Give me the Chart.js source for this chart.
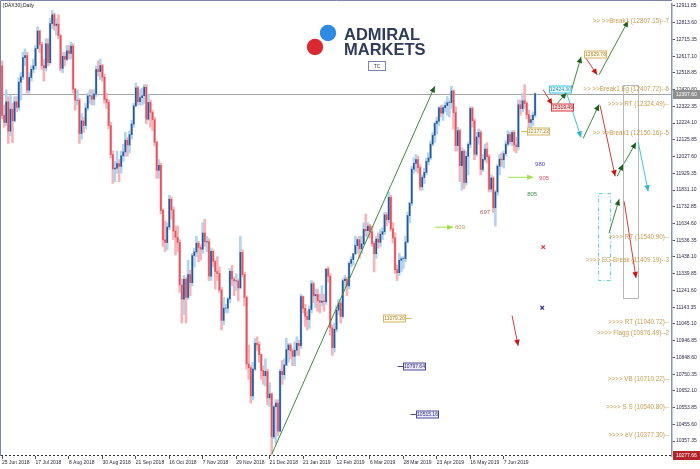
<!DOCTYPE html>
<html>
<head>
<meta charset="utf-8">
<script src="https://cdn.jsdelivr.net/npm/chart.js@4.4.0/dist/chart.umd.min.js"></script>
<style>
  html, body { margin: 0; padding: 0; background: #fff; }
  #wrap { width: 700px; height: 469px; }
</style>
</head>
<body>
<div id="wrap"><canvas id="dax" width="700" height="469"></canvas></div>
<script>
// trading days: weekends and these exchange holidays are skipped
const startDay = '2018-06-25';
const holidays = ['2018-10-03', '2018-12-24', '2018-12-25', '2018-12-26', '2018-12-31',
                  '2019-01-01', '2019-04-19', '2019-04-22', '2019-05-01'];
const slotCount = 321; // candles plus empty room on the right

const dateTicks = ['25 Jun 2018', '17 Jul 2018', '8 Aug 2018', '30 Aug 2018', '21 Sep 2018',
                   '16 Oct 2018', '7 Nov 2018', '29 Nov 2018', '21 Dec 2018', '21 Jan 2019',
                   '12 Feb 2019', '6 Mar 2019', '28 Mar 2019', '23 Apr 2019', '16 May 2019', '7 Jun 2019'];

const priceTicks = [12911.85, 12813.60, 12715.35, 12617.10, 12518.85, 12420.60, 12322.35, 12224.10,
                    12125.85, 12027.60, 11929.35, 11831.10, 11732.85, 11634.60, 11536.35, 11438.10,
                    11339.85, 11241.60, 11143.35, 11045.10, 10946.85, 10848.60, 10750.35, 10652.10,
                    10553.85, 10455.60, 10357.35];
const yMin = 10269.7;
const yMax = 12923.5;

// daily candles, open = previous close
const firstOpen = 12560;
const closes = [
  12270,12228,12349,12177,12306, 12238,12349,12317,12465,12496,
  12609,12620,12417,12492,12540, 12561,12662,12765,12686,12562,
  12548,12690,12579,12809,12860, 12798,12805,12737,12546,12616,
  12598,12648,12633,12676,12424, 12358,12358,12163,12237,12210,
  12313,12384,12385,12365,12394, 12538,12527,12562,12494,12364,
  12346,12210,12040,11955,11960, 11987,11970,12032,12055,12124,
  12096,12157,12219,12326,12431, 12350,12374,12385,12435,12247,
  12346,12287,12244,12111, 11947,11977,11712,11539,11523,
  11614,11777,11715,11590,11554, 11524,11274,11191,11307,11201,
  11335,11287,11447,11468,11519, 11494,11484,11579,11527,11529,
  11325,11472,11412,11353,11341, 11244,11066,11138,11138,11192,
  11354,11309,11298,11298,11257, 11465,11335,11200,10810,10788,
  10622,10780,10931,10924,10865, 10772,10741,10766,10611,10634,
  10382,10559, 10580,10416,10767,
  10747,10804,10893,10921,10887, 10855,10891,10931,10918,11205,
  11136,11090,11071,11130,11281, 11210,11218,11181,11173,11180,
  11176,11367,11325,11022,10906, 11014,11126,11167,11089,11299,
  11309,11269,11401,11423,11457, 11505,11540,11487,11515,11601,
  11593,11620,11587,11518,11457, 11543,11524,11572,11587,11685,
  11657,11788,11603,11550,11364, 11346,11419,11428,11429,11526,
  11681,11754,11954,11988,12010, 11963,11850,11905,11935,11999,
  12020,12101,12153,12222, 12236,12314,12283,12315, 12328,12344,12345,12412,
  12286,12092,12180,11974,12059, 11876,12029,12099,12310,12238,
  12041,12143,12169,11952,12011, 12071,12027,11837,11902,11727,
  11820,11971,12013,12009,12045, 12101,12157,12115,12169,12096,
  12086,12332,12309,12355,12340, 12274,12228,12245,12271,12398
];
const highs = [
  12590,12330,12420,12380,12390, 12340,12380,12380,12490,12520,
  12640,12660,12640,12520,12560, 12600,12680,12790,12770,12700,
  12600,12720,12720,12840,12886, 12870,12840,12860,12745,12640,
  12640,12680,12680,12700,12690, 12430,12420,12370,12280,12260,
  12340,12400,12420,12420,12420, 12560,12590,12600,12570,12510,
  12400,12360,12230,12060,12000, 12060,12010,12060,12100,12170,
  12140,12180,12240,12340,12460, 12440,12420,12430,12450,12450,
  12390,12360,12300,12260, 12120,12010,11990,11720,11650,
  11640,11800,11790,11730,11620, 11620,11540,11310,11330,11320,
  11420,11360,11460,11490,11560, 11530,11510,11640,11660,11560,
  11545,11490,11480,11420,11440, 11380,11260,11200,11160,11200,
  11370,11390,11320,11340,11310, 11560,11480,11350,11210,10920,
  10800,10820,10960,10970,10940, 10870,10800,10840,10780,10700,
  10640,10570, 10600,10600,10780,
  10830,10840,10960,10930,10930, 10900,10940,10970,10950,11220,
  11210,11160,11120,11150,11300, 11290,11250,11250,11220,11270,
  11220,11370,11380,11340,11040, 11050,11150,11190,11180,11310,
  11330,11320,11410,11440,11460, 11560,11550,11560,11560,11640,
  11690,11640,11630,11620,11530, 11560,11580,11600,11610,11700,
  11700,11820,11800,11640,11580, 11390,11460,11440,11440,11560,
  11700,11760,11970,12020,12040, 12030,11980,11920,11960,12020,
  12050,12120,12170,12230, 12260,12320,12330,12330, 12350,12380,12360,12440,
  12420,12320,12200,12190,12080, 12070,12060,12110,12320,12320,
  12250,12170,12190,12180,12040, 12100,12110,12040,11920,11910,
  11830,11980,12040,12050,12060, 12120,12180,12170,12180,12180,
  12140,12360,12360,12400,12450, 12350,12300,12270,12290,12400
];
const lows = [
  12250,12200,12210,12105,12150, 12110,12230,12290,12300,12360,
  12480,12560,12400,12400,12470, 12520,12540,12660,12640,12540,
  12470,12530,12560,12570,12780, 12770,12740,12720,12530,12520,
  12560,12590,12600,12600,12400, 12300,12330,12105,12130,12170,
  12190,12300,12340,12330,12330, 12380,12500,12480,12470,12340,
  12310,12190,12020,11870,11880, 11930,11880,11930,12000,12030,
  12030,12050,12130,12200,12320, 12330,12330,12330,12340,12220,
  12240,12200,12180,12090, 11900,11900,11690,11500,11470,
  11480,11600,11660,11540,11450, 11470,11230,11050,11100,11050,
  11190,11210,11270,11380,11440, 11410,11420,11460,11500,11470,
  11300,11300,11380,11250,11300, 11230,11010,11040,11110,11110,
  11170,11270,11210,11240,11180, 11250,11320,11150,10780,10720,
  10580,10600,10770,10890,10820, 10720,10690,10680,10570,10560,
  10279,10370, 10340,10390,10410,
  10690,10720,10800,10820,10840, 10800,10800,10860,10860,10900,
  11110,11030,11010,11020,11110, 11170,11140,11120,11110,11150,
  11120,11160,11290,10980,10860, 10880,11000,11100,11050,11080,
  11260,11210,11250,11380,11390, 11450,11460,11430,11460,11510,
  11560,11550,11550,11500,11350, 11430,11490,11500,11540,11570,
  11620,11640,11590,11520,11340, 11300,11330,11350,11370,11410,
  11520,11640,11740,11930,11940, 11930,11830,11830,11870,11920,
  11980,12010,12090,12110, 12160,12210,12260,12240, 12290,12270,12260,12310,
  12190,12060,12060,11880,11830, 11840,11860,11920,12080,12200,
  12010,12030,12100,11920,11940, 12000,11990,11820,11820,11700,
  11620,11800,11920,11970,11960, 12030,12090,12100,12090,12060,
  12050,12070,12270,12290,12310, 12250,12160,12180,12210,12260
];

const lastPrice = 12397.60;
const lowLine = 10277.66;

// analysis levels printed on the right
const levelNames = ['>> >>Break1', '>> >>Break1 Eg', '>>>> RT', '>> >>Break1', '>>>> RT', '>>>> EG-Break',
                    '>>>> RT', '>>>> Flagg', '>>>> VB', '>>>> S S', '>>>> eV'];
const levelPrices = [12807.15, 12407.72, 12324.49, 12150.16, 11540.90, 11409.19,
                     11040.72, 10976.49, 10710.22, 10540.80, 10377.30];
const levelTags = ['7', '6', '', '5', '', '3', '', '2', '', '', ''];

// price boxes: [price, bar index, kind, leader side]
const priceBoxes = [
  [12629.78, 283.7, 'tan', ''], [12424.30, 267, 'cyan', ''], [12319.49, 268, 'red', ''],
  [12177.22, 256.5, 'tan', 'l'], [11079.20, 187.6, 'tan', 'r'],
  [10797.64, 197, 'blue', 'l'], [10515.16, 203.3, 'blue', 'l']
];

// scenario arrows: [from index, from price, to index, to price, colour]
const arrows = [
  [129, 10279, 207, 12440, 'green'],
  [258.9, 12420, 263.2, 12333, 'red'],
  [265.6, 12339, 270, 12403, 'green'],
  [270, 12403, 277, 12140, 'cyan'],
  [278, 12134, 285.6, 12333, 'green'],
  [286.1, 12327, 293.3, 11912, 'red'],
  [272.2, 12409, 277, 12613, 'green'],
  [278.9, 12613, 284.7, 12508, 'red'],
  [285.6, 12508, 299.5, 12824, 'green'],
  [294.3, 11912, 297.1, 11982, 'green'],
  [297.6, 11988, 303.3, 12110, 'green'],
  [304.3, 12116, 309.1, 11824, 'cyan'],
  [290.4, 11578, 295.2, 11777, 'green'],
  [297.6, 11765, 303.3, 11315, 'red'],
  [244, 11093, 246.9, 10917, 'red'],
  [207.2, 11613, 215.8, 11613, 'lime'],
  [242.1, 11906, 254.1, 11906, 'lime']
];

const waveCounts = [['980', 257.4, 11982, '#4b4bd2'], ['905', 259.3, 11900, '#e2506a'],
                    ['805', 253.6, 11806, '#3d8a3d'], ['697', 231.1, 11701, '#b35b5b'],
                    ['609', 219.1, 11613, '#bfa05a']];
const crossMarks = [[258.9, 11496, '#e03040'], [258.4, 11140, '#2a2a90']];
// [index from, price top, index to, price bottom, style]
const zones = [[285.2, 11812, 291, 11304, 'cyan'], [297.1, 12450, 304.3, 11198, 'gray']];

function tradingDays(start, n) {
  const months = ['Jan','Feb','Mar','Apr','May','Jun','Jul','Aug','Sep','Oct','Nov','Dec'];
  const out = [];
  const d = new Date(start + 'T00:00:00Z');
  while (out.length < n) {
    const iso = d.toISOString().slice(0, 10);
    const wd = d.getUTCDay();
    if (wd !== 0 && wd !== 6 && !holidays.includes(iso)) {
      out.push(d.getUTCDate() + ' ' + months[d.getUTCMonth()] + ' ' + d.getUTCFullYear());
    }
    d.setUTCDate(d.getUTCDate() + 1);
  }
  return out;
}

const days = tradingDays(startDay, slotCount);
const opens = closes.map((c, i) => i === 0 ? firstOpen : closes[i - 1]);
const bodies = closes.map((c, i) => [opens[i], c]);
const ranges = closes.map((c, i) => [lows[i], highs[i]]);
const up = closes.map((c, i) => c >= opens[i]);

const LINE = { green: '#3f8a3f', red: '#d83b3b', cyan: '#3ec3dc', lime: '#9fe04c' };
const HEAD = { green: '#1d5e1d', red: '#c81414', cyan: '#2bb8d4', lime: '#9fe04c' };
const BOX = {
  tan: ['#fffbe6', '#d6b46a', '#a98440'],
  cyan: ['#e6fbff', '#3ec3dc', '#2a8ea8'],
  red: ['#fbd9dc', '#d83b3b', '#9a1d24'],
  blue: ['#ecebfa', '#4a4a9a', '#2a2a7a']
};

function arrowTo(ctx, x1, y1, x2, y2, kind) {
  ctx.strokeStyle = LINE[kind];
  ctx.lineWidth = 1;
  ctx.beginPath(); ctx.moveTo(x1, y1); ctx.lineTo(x2, y2); ctx.stroke();
  const a = Math.atan2(y2 - y1, x2 - x1);
  const L = 6, W = 2.8;
  ctx.fillStyle = HEAD[kind];
  ctx.beginPath();
  ctx.moveTo(x2, y2);
  ctx.lineTo(x2 - L * Math.cos(a) + W * Math.sin(a), y2 - L * Math.sin(a) - W * Math.cos(a));
  ctx.lineTo(x2 - L * Math.cos(a) - W * Math.sin(a), y2 - L * Math.sin(a) + W * Math.cos(a));
  ctx.closePath(); ctx.fill();
}

const overlay = {
  id: 'overlay',
  beforeDraw(chart) {
    const ctx = chart.ctx;
    ctx.save();
    ctx.fillStyle = '#fff';
    ctx.fillRect(0, 0, chart.width, chart.height);
    ctx.restore();
  },
  beforeDatasetsDraw(chart) {
    const { ctx, chartArea: a, scales: { y } } = chart;
    ctx.save();
    // last price line
    const yp = Math.round(y.getPixelForValue(lastPrice)) + 0.5;
    ctx.strokeStyle = '#a4a4a4'; ctx.lineWidth = 1;
    ctx.beginPath(); ctx.moveTo(a.left, yp); ctx.lineTo(a.right, yp); ctx.stroke();
    ctx.restore();
  },
  afterDatasetsDraw(chart) {
    const { ctx, chartArea: a, scales: { x, y } } = chart;
    const px = i => x.getPixelForValue(i);
    const py = p => y.getPixelForValue(p);
    ctx.save();

    // frame
    ctx.strokeStyle = '#7c84a4'; ctx.lineWidth = 1;
    ctx.beginPath(); ctx.moveTo(0.5, a.bottom); ctx.lineTo(0.5, 0.5); ctx.lineTo(a.right, 0.5); ctx.stroke();
    // low dashed line
    const yl = Math.round(py(lowLine)) + 0.5;
    ctx.setLineDash([2, 2]); ctx.strokeStyle = '#333';
    ctx.beginPath(); ctx.moveTo(a.left, yl); ctx.lineTo(a.right, yl); ctx.stroke();
    ctx.setLineDash([]);

    // title
    ctx.fillStyle = '#222'; ctx.font = '5px "Liberation Sans"';
    ctx.textAlign = 'left'; ctx.textBaseline = 'top';
    ctx.fillText('[DAX30],Daily', 3, 3);

    // logo
    ctx.fillStyle = '#2f8be2';
    ctx.beginPath(); ctx.arc(328, 33, 8.2, 0, Math.PI * 2); ctx.fill();
    ctx.fillStyle = '#d9282f';
    ctx.beginPath(); ctx.arc(315, 47, 8.2, 0, Math.PI * 2); ctx.fill();
    ctx.fillStyle = '#2f3b5a'; ctx.font = 'bold 16.5px "Liberation Sans"';
    ctx.textBaseline = 'alphabetic';
    ctx.fillText('ADMIRAL', 344, 40);
    ctx.fillText('MARKETS', 344, 55);
    ctx.strokeStyle = '#7a86a8'; ctx.strokeRect(368.5, 61.5, 17, 9);
    ctx.fillStyle = '#2f3b5a'; ctx.font = '5px "Liberation Sans"';
    ctx.textAlign = 'center'; ctx.textBaseline = 'middle';
    ctx.fillText('TC', 377, 66.5);

    // zones
    zones.forEach(([i1, p1, i2, p2, kind]) => {
      if (kind === 'cyan') { ctx.strokeStyle = '#5fd3e6'; ctx.setLineDash([4, 2, 1, 2]); }
      else { ctx.strokeStyle = '#b9b9b9'; ctx.setLineDash([]); }
      ctx.lineWidth = 1;
      ctx.strokeRect(Math.round(px(i1)) + 0.5, Math.round(py(p1)) + 0.5,
                     Math.round(px(i2) - px(i1)), Math.round(py(p2) - py(p1)));
    });
    ctx.setLineDash([]);

    // arrows
    arrows.forEach(([i1, p1, i2, p2, kind]) => arrowTo(ctx, px(i1), py(p1), px(i2), py(p2), kind));

    // wave counts
    ctx.font = '6px "Liberation Sans"'; ctx.textAlign = 'center'; ctx.textBaseline = 'middle';
    waveCounts.forEach(([t, i, p, c]) => { ctx.fillStyle = c; ctx.fillText(t, px(i), py(p)); });

    // crosses
    crossMarks.forEach(([i, p, c]) => {
      const cx = px(i), cy = py(p);
      ctx.strokeStyle = c; ctx.lineWidth = 1.2;
      ctx.beginPath();
      ctx.moveTo(cx - 1.8, cy - 1.8); ctx.lineTo(cx + 1.8, cy + 1.8);
      ctx.moveTo(cx + 1.8, cy - 1.8); ctx.lineTo(cx - 1.8, cy + 1.8);
      ctx.stroke();
    });

    // level labels
    ctx.font = '6.3px "Liberation Sans"'; ctx.textAlign = 'right'; ctx.textBaseline = 'bottom';
    ctx.fillStyle = '#c99b55';
    levelPrices.forEach((p, k) => {
      const tag = levelTags[k];
      ctx.fillText(levelNames[k] + ' (' + p.toFixed(2) + ')--' + tag, a.right - 3, py(p) + 1);
    });

    // price boxes
    ctx.font = '5px "Liberation Sans"'; ctx.textAlign = 'center'; ctx.textBaseline = 'middle';
    priceBoxes.forEach(([p, i, kind, side]) => {
      const [fill, border, text] = BOX[kind];
      const cx = px(i), cy = Math.round(py(p));
      const w = 22, h = 7;
      const left = Math.round(cx - w / 2) + 0.5;
      ctx.strokeStyle = border; ctx.lineWidth = 1;
      if (side === 'l') { ctx.beginPath(); ctx.moveTo(left - 6, cy + 0.5); ctx.lineTo(left, cy + 0.5); ctx.stroke(); }
      if (side === 'r') { ctx.beginPath(); ctx.moveTo(left + w, cy + 0.5); ctx.lineTo(left + w + 6, cy + 0.5); ctx.stroke(); }
      ctx.fillStyle = fill; ctx.fillRect(left, cy - h / 2 + 0.5, w, h);
      ctx.strokeRect(left, cy - h / 2 + 0.5, w, h);
      ctx.fillStyle = text; ctx.fillText(p.toFixed(2), left + w / 2, cy + 0.8);
    });
    ctx.restore();
  },
  afterDraw(chart) {
    const { ctx, chartArea: a, scales: { y } } = chart;
    ctx.save();
    ctx.font = '5px "Liberation Sans"'; ctx.textAlign = 'left'; ctx.textBaseline = 'middle';
    [[lastPrice, '#8f8f8f'], [lowLine, '#b3232a']].forEach(([p, c]) => {
      const cy = Math.round(y.getPixelForValue(p));
      ctx.fillStyle = c; ctx.fillRect(a.right + 1, cy - 4, chart.width - a.right - 1, 9);
      ctx.fillStyle = '#fff'; ctx.fillText(p.toFixed(2), a.right + 4, cy + 0.5);
    });
    ctx.restore();
  }
};

new Chart(document.getElementById('dax'), {
  type: 'bar',
  data: {
    labels: days,
    datasets: [
      {
        label: 'body', data: bodies, grouped: false, order: 0, barThickness: 1,
        backgroundColor: up.map(u => u ? '#24569a' : '#e6505a')
      },
      {
        label: 'range', data: ranges, grouped: false, order: 1, barThickness: 2,
        backgroundColor: up.map(u => u ? '#b3d3ee' : '#f6b4b9')
      }
    ]
  },
  options: {
    animation: false,
    responsive: false,
    events: [],
    layout: { padding: { left: 1, top: 2, right: 0, bottom: 0 } },
    plugins: { legend: { display: false }, tooltip: { enabled: false } },
    scales: {
      x: {
        offset: true,
        grid: { drawOnChartArea: false, offset: false, tickLength: 3, color: '#555' },
        border: { display: false },
        ticks: { autoSkip: false, maxRotation: 0, align: 'start', padding: 1, color: '#2a2a3a',
                 font: { size: 5, family: 'Liberation Sans' } },
        afterBuildTicks: s => { s.ticks = s.ticks.filter(t => dateTicks.includes(days[t.value])); },
        afterFit: s => { s.height = 13; }
      },
      y: {
        position: 'right', min: yMin, max: yMax,
        grid: { drawOnChartArea: false, tickLength: 3, color: '#555' },
        border: { color: '#8496b4', width: 1.5 },
        ticks: { padding: 1, color: '#2a2a4a', font: { size: 5, family: 'Liberation Sans' },
                 callback: v => Number(v).toFixed(2) },
        afterBuildTicks: s => { s.ticks = priceTicks.map(v => ({ value: v })); },
        afterFit: s => { s.width = 28; }
      }
    }
  },
  plugins: [overlay]
});
</script>
</body>
</html>
